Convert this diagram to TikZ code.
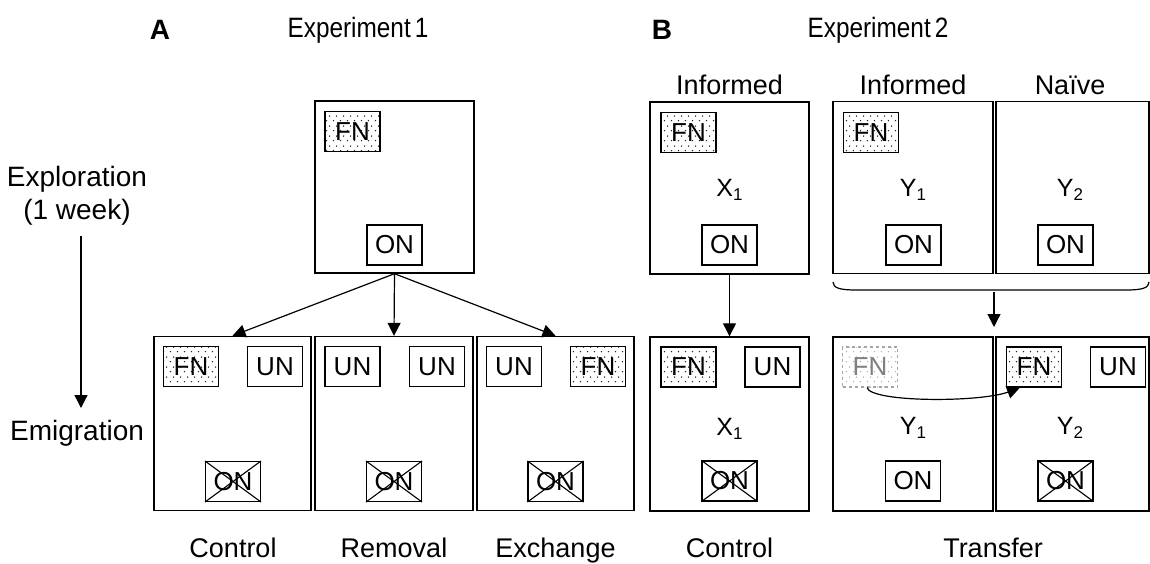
\documentclass[tikz,border=0pt]{standalone}
\usepackage{fontspec}
\setmainfont{Liberation Sans}
\usetikzlibrary{patterns,patterns.meta,arrows.meta}
\newcommand{\mysub}[1]{\raisebox{-0.35ex}{\fontsize{17}{20}\selectfont #1}}
\tikzdeclarepattern{
  name=sparsedots, type=uncolored,
  bounding box={(0pt,0pt) and (6.5pt,10pt)},
  tile size={(6.5pt,10pt)},
  code={
    \fill (1.6pt,2.5pt) circle (0.85pt);
    \fill (4.85pt,7.5pt) circle (0.85pt);
  }
}
\begin{document}
\begin{tikzpicture}[x=1pt,y=-1pt,
  bigbox/.style={draw, line width=1.4pt, minimum height=174pt, inner sep=0pt},
  topbox/.style={draw, line width=1.4pt, minimum height=172pt, inner sep=0pt},
  small/.style={draw, line width=1.1pt, minimum width=55pt, minimum height=40pt, inner sep=0pt, font=\fontsize{26}{30}\selectfont},
  fnbox/.style={small, pattern=sparsedots, pattern color=black!85},
  fadedfn/.style={small, draw=gray!70, dashed, text=gray, pattern=sparsedots, pattern color=gray!60},
  lab/.style={font=\fontsize{27}{32}\selectfont},
  biglab/.style={font=\fontsize{28}{33}\selectfont},
  head/.style={font=\fontsize{28}{33}\selectfont\bfseries},
  sym/.style={font=\fontsize{25}{29}\selectfont},
  cross/.style={line width=1.1pt},
  arr/.style={line width=1.2pt, -{Triangle[length=13pt,width=13pt]}}
]
\useasboundingbox (0,0) rectangle (1150,563);

% headings
\node[head] (hA) at (160,30) {A};
\node[biglab] (hE1) at (358,30) {\scalebox{0.87}[1]{Experiment\,1}};
\node[head] (hB) at (662,30) {B};
\node[biglab] (hE2) at (878,30) {\scalebox{0.87}[1]{Experiment\,2}};
\node[lab] (inf1) at (729.5,85) {Informed};
\node[lab] (inf2) at (913,85) {Informed};
\node[lab] (naive) at (1070,85) {Naïve};

% left side
\node[biglab, align=center] (expl) at (77,196) {Exploration\\(1 week)};
\node[biglab] (emig) at (77,433) {Emigration};
\coordinate (t0) at (81,236);
\coordinate (t1) at (81,408);
\draw[arr] (t0) -- (t1);

% ===== Experiment 1 =====
\node[topbox, minimum width=159pt] (a0) at (394.5,187) {};
\node[fnbox] (a0fn) at (352.5,131.5) {FN};
\node[small] (a0on) at (394.5,245) {ON};

\node[bigbox, minimum width=157pt] (ctl) at (232.5,423.5) {};
\node[fnbox] (ctlfn) at (191,366.5) {FN};
\node[small] (ctlun) at (275,366.5) {UN};
\node[small] (ctlon) at (233,481.5) {ON};

\node[bigbox, minimum width=158pt] (rem) at (394,423.5) {};
\node[small] (remun1) at (352.5,366.5) {UN};
\node[small] (remun2) at (437,366.5) {UN};
\node[small] (remon) at (394,481.5) {ON};

\node[bigbox, minimum width=157pt] (exc) at (555.5,423.5) {};
\node[small] (excun) at (514,366.5) {UN};
\node[fnbox] (excfn) at (598,366.5) {FN};
\node[small] (excon) at (555.5,481.5) {ON};

\draw[arr] (a0.south) -- (ctl.north);
\draw[arr] (a0.south) -- (rem.north);
\draw[arr] (a0.south) -- (exc.north);

% ===== Experiment 2 =====
\node[topbox, minimum width=159pt] (x0) at (729.5,188) {};
\node[fnbox] (x0fn) at (688.5,132.5) {FN};
\node[sym] (x0l) at (729.5,190) {X\mysub{1}};
\node[small] (x0on) at (729.5,245) {ON};

\node[bigbox, minimum width=159pt] (x1) at (729.5,424) {};
\node[fnbox] (x1fn) at (688.5,367) {FN};
\node[small] (x1un) at (772.5,367) {UN};
\node[sym] (x1l) at (729.5,429) {X\mysub{1}};
\node[small] (x1on) at (729.5,481) {ON};

\draw[arr] (x0.south) -- (x1.north);

\node[topbox, minimum width=160pt] (y1t) at (913,187.5) {};
\node[fnbox] (y1tfn) at (871,132.5) {FN};
\node[sym] (y1tl) at (913,190) {Y\mysub{1}};
\node[small] (y1ton) at (913.5,245) {ON};

\node[topbox, minimum width=153pt] (y2t) at (1072.5,187.5) {};
\node[sym] (y2tl) at (1070,190) {Y\mysub{2}};
\node[small] (y2ton) at (1065.5,245) {ON};

% brace
\draw[line width=1.2pt] (833,282) .. controls (833,288) and (840,290) .. (856,290) -- (1126,290) .. controls (1142,290) and (1149,288) .. (1149,282);
\coordinate (b0) at (994,292);
\coordinate (b1) at (994,327);
\draw[arr] (b0) -- (b1);

\node[bigbox, minimum width=160pt] (y1b) at (913,424) {};
\node[fadedfn] (y1bfn) at (870,367) {FN};
\node[sym] (y1bl) at (913,428) {Y\mysub{1}};
\node[small] (y1bon) at (913,481) {ON};

\node[bigbox, minimum width=153pt] (y2b) at (1072.5,424) {};
\node[fnbox] (y2bfn) at (1034,367) {FN};
\node[small] (y2bun) at (1118,367) {UN};
\node[sym] (y2bl) at (1070,428) {Y\mysub{2}};
\node[small] (y2bon) at (1065.5,481) {ON};

\draw[arr] ([xshift=-3pt]y1bfn.south) .. controls +(4,15) and +(-40,15) .. ([xshift=-14pt]y2bfn.south);

% crosses on removed ON
\foreach \n in {ctlon,remon,excon,x1on,y2bon}{
  \draw[cross] (\n.north west) -- (\n.south east) (\n.north east) -- (\n.south west);
}

% bottom labels
\node[lab, anchor=base] (lc1) at (233,557) {Control};
\node[lab, anchor=base] (lr) at (394,557) {Removal};
\node[lab, anchor=base] (le) at (555.5,557) {Exchange};
\node[lab, anchor=base] (lc2) at (729.5,557) {Control};
\node[lab, anchor=base] (lt) at (993,557) {Transfer};
\end{tikzpicture}
\end{document}
